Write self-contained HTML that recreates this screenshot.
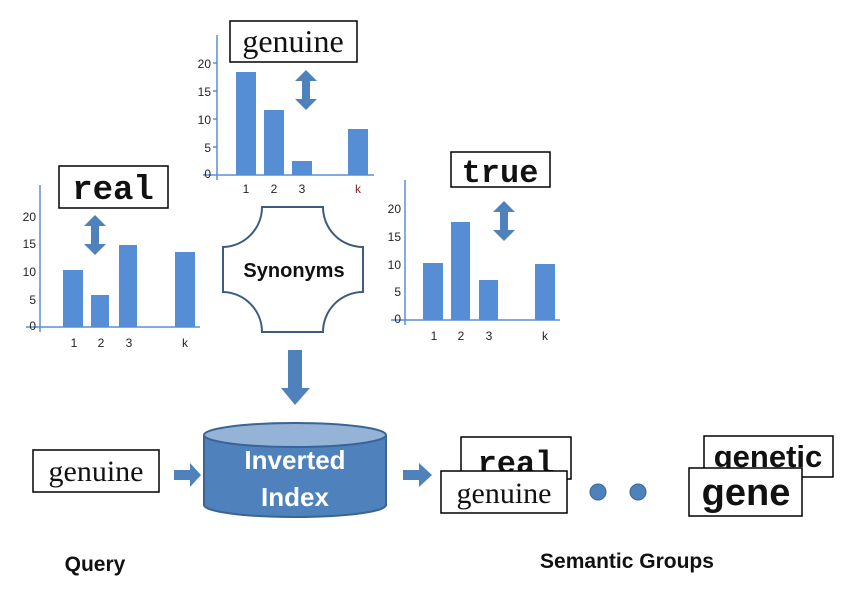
<!DOCTYPE html>
<html><head><meta charset="utf-8"><style>
html,body{margin:0;padding:0;background:#fff;}
svg{display:block;font-family:"Liberation Sans",sans-serif;}
.ax{stroke:#5b8fd6;stroke-width:1.5;fill:none}
.bar{fill:#558ed5}
.tl{font-size:12px;fill:#222}
.ser{font-family:"Liberation Serif",serif;fill:#111}
</style></head><body>
<svg width="868" height="594" viewBox="0 0 868 594">
<defs>
<g id="darr"><polygon points="0,-20 11,-9 4,-9 4,9 11,9 0,20 -11,9 -4,9 -4,-9 -11,-9" fill="#4f81bd"/></g>
</defs>
<!-- Chart top -->
<line class="ax" x1="217" y1="35" x2="217" y2="180"/>
<line class="ax" x1="203" y1="175" x2="374" y2="175"/>
<g class="ax"><line x1="213" y1="63" x2="217" y2="63"/><line x1="213" y1="91" x2="217" y2="91"/><line x1="213" y1="119" x2="217" y2="119"/><line x1="213" y1="147" x2="217" y2="147"/></g>
<g class="tl" text-anchor="end"><text x="211" y="68">20</text><text x="211" y="96">15</text><text x="211" y="124">10</text><text x="211" y="152">5</text><text x="211" y="178">0</text></g>
<rect class="bar" x="236" y="72" width="20" height="103"/>
<rect class="bar" x="264" y="110" width="20" height="65"/>
<rect class="bar" x="292" y="161" width="20" height="14"/>
<rect class="bar" x="348" y="129" width="20" height="46"/>
<g class="tl" text-anchor="middle"><text x="246" y="193">1</text><text x="274" y="193">2</text><text x="302" y="193">3</text><text x="358" y="193" fill="#7a1f1f">k</text></g>
<rect x="230" y="21" width="127" height="41" fill="#fff" stroke="#000" stroke-width="1.5"/>
<text class="ser" x="293" y="52" font-size="32" text-anchor="middle">genuine</text>
<use href="#darr" x="306" y="90"/>

<!-- Chart left -->
<line class="ax" x1="40" y1="185" x2="40" y2="332"/>
<line class="ax" x1="26" y1="327" x2="200" y2="327"/>
<g class="tl" text-anchor="end"><text x="36" y="221">20</text><text x="36" y="248">15</text><text x="36" y="276">10</text><text x="36" y="304">5</text><text x="36" y="330">0</text></g>
<rect class="bar" x="63" y="270" width="20" height="57"/>
<rect class="bar" x="91" y="295" width="18" height="32"/>
<rect class="bar" x="119" y="245" width="18" height="82"/>
<rect class="bar" x="175" y="252" width="20" height="75"/>
<g class="tl" text-anchor="middle"><text x="74" y="347">1</text><text x="101" y="347">2</text><text x="129" y="347">3</text><text x="185" y="347">k</text></g>
<rect x="59" y="166" width="109" height="42" fill="#fff" stroke="#000" stroke-width="1.5"/>
<text x="113" y="199" font-size="34" font-weight="bold" font-family="Liberation Mono,monospace" text-anchor="middle" fill="#111">real</text>
<use href="#darr" x="95" y="235"/>

<!-- Chart right -->
<line class="ax" x1="405" y1="180" x2="405" y2="325"/>
<line class="ax" x1="391" y1="320" x2="560" y2="320"/>
<g class="tl" text-anchor="end"><text x="401" y="213">20</text><text x="401" y="241">15</text><text x="401" y="269">10</text><text x="401" y="296">5</text><text x="401" y="323">0</text></g>
<rect class="bar" x="423" y="263" width="20" height="57"/>
<rect class="bar" x="451" y="222" width="19" height="98"/>
<rect class="bar" x="479" y="280" width="19" height="40"/>
<rect class="bar" x="535" y="264" width="20" height="56"/>
<g class="tl" text-anchor="middle"><text x="434" y="340">1</text><text x="461" y="340">2</text><text x="489" y="340">3</text><text x="545" y="340">k</text></g>
<rect x="451" y="152" width="99" height="35" fill="#fff" stroke="#000" stroke-width="1.5"/>
<text x="500" y="182" font-size="32" font-weight="bold" font-family="Liberation Mono,monospace" text-anchor="middle" fill="#111">true</text>
<use href="#darr" x="504" y="221"/>

<!-- Synonyms -->
<path d="M262,207 L323,207 A40,40 0 0 0 363,247 L363,292 A40,40 0 0 0 323,332 L262,332 A40,40 0 0 0 223,292 L223,247 A40,40 0 0 0 262,207 Z" fill="#fff" stroke="#3d5a80" stroke-width="2"/>
<text x="294" y="277" font-size="20" font-weight="bold" text-anchor="middle" fill="#111">Synonyms</text>
<polygon points="288,350 302,350 302,388 310,388 295,405 281,388 288,388" fill="#4f81bd"/>

<!-- Cylinder -->
<path d="M204,435 L204,505 A91,12 0 0 0 386,505 L386,435" fill="#4f81bd" stroke="#3a6495" stroke-width="2"/>
<ellipse cx="295" cy="435" rx="91" ry="12" fill="#95b3d7" stroke="#3a6495" stroke-width="2"/>
<text x="295" y="469" font-size="26" font-weight="bold" fill="#fff" text-anchor="middle">Inverted</text>
<text x="295" y="506" font-size="26" font-weight="bold" fill="#fff" text-anchor="middle">Index</text>

<!-- Query -->
<rect x="33" y="450" width="126" height="42" fill="#fff" stroke="#000" stroke-width="1.5"/>
<text class="ser" x="96" y="481" font-size="30" text-anchor="middle">genuine</text>
<polygon points="174,470 190,470 190,463 201,475 190,487 190,480 174,480" fill="#4f81bd"/>
<polygon points="403,470 419,470 419,463 432,475 419,487 419,480 403,480" fill="#4f81bd"/>

<!-- groups -->
<rect x="461" y="437" width="110" height="42" fill="#fff" stroke="#000" stroke-width="1.5"/>
<text x="516" y="473" font-size="32" font-weight="bold" font-family="Liberation Mono,monospace" text-anchor="middle" fill="#111">real</text>
<rect x="441" y="471" width="126" height="42" fill="#fff" stroke="#000" stroke-width="1.5"/>
<text class="ser" x="504" y="503" font-size="30" text-anchor="middle">genuine</text>
<circle cx="598" cy="492" r="8" fill="#4f81bd" stroke="#3a6495"/>
<circle cx="638" cy="492" r="8" fill="#4f81bd" stroke="#3a6495"/>
<rect x="704" y="436" width="129" height="41" fill="#fff" stroke="#000" stroke-width="1.5"/>
<text x="768" y="467" font-size="31" font-weight="bold" text-anchor="middle" fill="#111">genetic</text>
<rect x="689" y="468" width="113" height="48" fill="#fff" stroke="#000" stroke-width="1.5"/>
<text x="746" y="505" font-size="38" font-weight="bold" text-anchor="middle" fill="#111">gene</text>

<text x="95" y="571" font-size="21" font-weight="bold" text-anchor="middle" fill="#111">Query</text>
<text x="627" y="568" font-size="21" font-weight="bold" text-anchor="middle" fill="#111">Semantic Groups</text>
</svg>
</body></html>
